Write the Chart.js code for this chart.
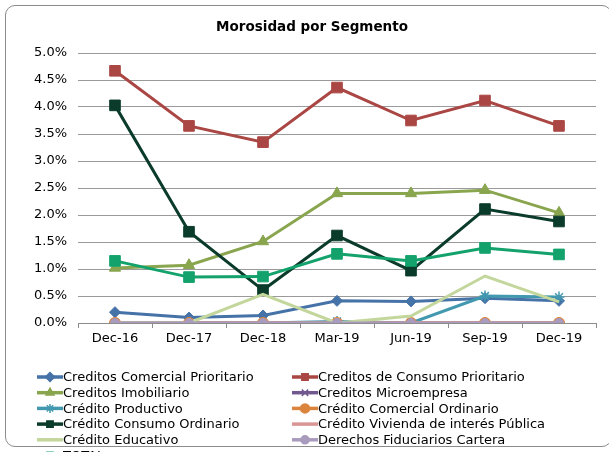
<!DOCTYPE html>
<html>
<head>
<meta charset="utf-8">
<script src="https://cdn.jsdelivr.net/npm/chart.js@4/dist/chart.umd.min.js"></script>
<style>
  body { margin: 0; background: #fff; overflow: hidden; }
  #wrap { position: relative; width: 609px; height: 452px; overflow: hidden; }
  #frame { position: absolute; left: 5px; top: 5px; width: 605px; height: 440px;
           border: 1px solid #8c8c8c; border-radius: 10px; }
  #wrap canvas { position: absolute; left: 0; top: 0; }
</style>
</head>
<body>
<div id="wrap">
  <div id="frame"></div>
  <canvas id="chart" width="609" height="452"></canvas>
</div>
<script>
// values in %
let periods = ['Dec-16', 'Dec-17', 'Dec-18', 'Mar-19', 'Jun-19', 'Sep-19', 'Dec-19'];

let comercialPrioritario = [0.20, 0.10, 0.14, 0.41, 0.40, 0.46, 0.41];
let consumoPrioritario   = [4.67, 3.65, 3.35, 4.36, 3.75, 4.12, 3.65];
let imobiliario          = [1.02, 1.07, 1.51, 2.40, 2.40, 2.46, 2.04];
let microempresa         = [0, 0, 0, 0, 0, 0, 0];
let productivo           = [0, 0, 0, 0.03, 0, 0.50, 0.48];
let comercialOrdinario   = [0, 0, 0, 0, 0, 0, 0];
let consumoOrdinario     = [4.03, 1.69, 0.61, 1.62, 0.97, 2.11, 1.88];
let viviendaPublica      = [0, 0, 0, 0, 0, 0, 0];
let educativo            = [0, 0, 0.53, 0, 0.13, 0.87, 0.39];
let fiduciarios          = [0, 0, 0, 0, 0, 0, 0];
let total                = [1.15, 0.85, 0.86, 1.28, 1.15, 1.39, 1.27];

let yTicks = [0, 0.5, 1, 1.5, 2, 2.5, 3, 3.5, 4, 4.5, 5];

const FONT = 'DejaVu Sans';

function serie(label, data, color, style, radius) {
  return {
    label: label,
    data: data,
    borderColor: color,
    backgroundColor: color,
    borderWidth: 3,
    pointStyle: style,
    pointRadius: radius,
    pointHoverRadius: radius,
    pointBorderWidth: style === 'star' || style === 'crossRot' ? 1.5 : 1,
    tension: 0
  };
}

let datasets = [
  serie('Creditos Comercial Prioritario', comercialPrioritario, '#4572A7', 'rectRot', 5.5),
  serie('Creditos de Consumo Prioritario', consumoPrioritario, '#AA4643', 'rect', 7.5),
  serie('Creditos Imobiliario', imobiliario, '#89A54E', 'triangle', 6.5),
  serie('Creditos Microempresa', microempresa, '#71588F', 'crossRot', 5),
  serie('Crédito Productivo', productivo, '#4198AF', 'star', 5.5),
  serie('Crédito Comercial Ordinario', comercialOrdinario, '#DB843D', 'circle', 5.5),
  serie('Crédito Consumo Ordinario', consumoOrdinario, '#0B3B2B', 'rect', 7.5),
  serie('Crédito Vivienda de interés Pública', viviendaPublica, '#D99694', false, 0),
  serie('Crédito Educativo', educativo, '#C3D69B', false, 0),
  serie('Derechos Fiduciarios Cartera', fiduciarios, '#A99BBD', 'circle', 4.5),
  serie('TOTAL', total, '#13A26C', 'rect', 7.5)
];
// later series on top, like the original
datasets.forEach((d, i) => { d.order = datasets.length - i; });

const frameText = {
  id: 'frameText',
  afterDraw(chart) {
    const ctx = chart.ctx;
    ctx.save();
    ctx.fillStyle = '#000';
    ctx.font = 'bold 13.5px ' + FONT;
    ctx.textAlign = 'center';
    ctx.textBaseline = 'middle';
    ctx.fillText('Morosidad por Segmento', 312, 27);

    // two-column legend
    const colX = [37, 292];
    ctx.font = '13px ' + FONT;
    ctx.textAlign = 'left';
    chart.data.datasets.forEach((ds, i) => {
      const x = colX[i % 2];
      const y = 377 + Math.floor(i / 2) * 15.7;
      ctx.strokeStyle = ds.borderColor;
      ctx.fillStyle = ds.backgroundColor;
      ctx.lineWidth = 3.5;
      ctx.beginPath();
      ctx.moveTo(x, y);
      ctx.lineTo(x + 26, y);
      ctx.stroke();
      if (ds.pointStyle) {
        ctx.lineWidth = 1.5;
        Chart.helpers.drawPoint(ctx, {
          pointStyle: ds.pointStyle,
          radius: Math.min(ds.pointRadius, 5) - 0.5,
          borderWidth: 1.5,
          rotation: 0
        }, x + 13, y);
      }
      ctx.fillStyle = '#000';
      ctx.fillText(ds.label, x + 26, y + 1);
    });
    ctx.restore();
  }
};

new Chart('chart', {
  type: 'line',
  data: {
    labels: periods,
    datasets: datasets
  },
  options: {
    responsive: false,
    animation: false,
    layout: {
      padding: { top: 53, right: 13, left: 0, bottom: 0 }
    },
    plugins: {
      legend: { display: false },
      title: { display: false },
      tooltip: { enabled: false }
    },
    scales: {
      x: {
        offset: true,
        afterFit: (scale) => { scale.height = 129; },
        grid: {
          offset: true,
          drawOnChartArea: false,
          drawTicks: true,
          tickLength: 5,
          color: '#8c8c8c'
        },
        border: { color: '#8c8c8c', width: 1 },
        ticks: {
          color: '#000',
          padding: 3,
          maxRotation: 0,
          font: { family: FONT, size: 13 }
        }
      },
      y: {
        min: 0,
        max: 5,
        afterFit: (scale) => { scale.width = 78; },
        afterBuildTicks: (scale) => { scale.ticks = yTicks.map(v => ({ value: v })); },
        grid: {
          drawTicks: false,
          color: '#9a9a9a',
          lineWidth: 1
        },
        border: { display: false },
        ticks: {
          color: '#000',
          padding: 11,
          font: { family: FONT, size: 13 },
          callback: (v) => v.toFixed(1) + '%'
        }
      }
    }
  },
  plugins: [frameText]
});
</script>
</body>
</html>
